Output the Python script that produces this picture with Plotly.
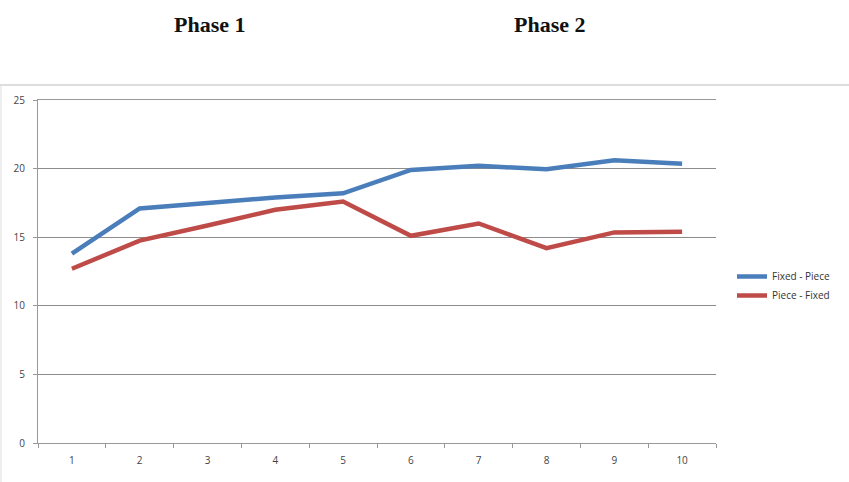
import plotly.graph_objects as go

categories = ["1", "2", "3", "4", "5", "6", "7", "8", "9", "10"]
fixed_piece = [13.8, 17.1, 17.5, 17.9, 18.2, 19.9, 20.2, 19.95, 20.6, 20.35]
piece_fixed = [12.7, 14.75, 15.85, 17.0, 17.6, 15.1, 16.0, 14.2, 15.35, 15.4]
y_ticks = [0, 5, 10, 15, 20, 25]
phase_labels = ["Phase 1", "Phase 2"]

W, H = 849, 482
L, R, T, B = 38, 133, 100, 39
pw, ph = W - L - R, H - T - B

def px_x(p):
    return (p - L) / pw

def px_y(p):
    return (H - B - p) / ph

fig = go.Figure()
fig.add_trace(go.Scatter(x=categories, y=fixed_piece, mode="lines", name="Fixed - Piece",
                         line=dict(color="#4a7ebb", width=4.5)))
fig.add_trace(go.Scatter(x=categories, y=piece_fixed, mode="lines", name="Piece - Fixed",
                         line=dict(color="#be4b48", width=4.5)))

fig.update_layout(
    width=W, height=H,
    margin=dict(l=L, r=R, t=T, b=B, autoexpand=False),
    paper_bgcolor="white", plot_bgcolor="white",
    showlegend=True,
    legend=dict(x=px_x(732), y=px_y(286), xanchor="left", yanchor="middle",
                font=dict(family="Open Sans, Arial, sans-serif", size=10, color="#333"),
                itemwidth=30, tracegroupgap=0, bgcolor="rgba(0,0,0,0)"),
    font=dict(family="Open Sans, Arial, sans-serif", size=10, color="#444"),
)
fig.update_xaxes(type="category", range=[-0.5, 9.5], tickson="boundaries", ticks="outside", ticklen=4,
                 tickcolor="#999", showline=True, linecolor="#999", linewidth=1, mirror=True,
                 showgrid=False, ticklabelstandoff=8, tickfont=dict(size=10, color="#444"))
fig.update_yaxes(range=[0, 25], tickvals=y_ticks, ticks="outside", ticklen=4,
                 tickcolor="#999", showline=True, linecolor="#999", linewidth=1,
                 showgrid=True, gridcolor="#8c8c8c", gridwidth=1, ticklabelstandoff=6,
                 zeroline=False, tickfont=dict(size=10, color="#444"))

for label, xp in zip(phase_labels, [210, 550]):
    fig.add_annotation(text="<b>" + label + "</b>", xref="paper", yref="paper",
                       x=px_x(xp), y=px_y(25), xanchor="center", yanchor="middle", showarrow=False,
                       font=dict(family="Liberation Serif, Times New Roman, serif", size=22, color="#111"))

fig.add_shape(type="line", xref="paper", yref="paper",
              x0=px_x(0), x1=px_x(W), y0=px_y(85), y1=px_y(85),
              line=dict(color="#bbbbbb", width=1))
fig.add_shape(type="line", xref="paper", yref="paper",
              x0=px_x(1), x1=px_x(1), y0=px_y(85), y1=px_y(H),
              line=dict(color="#dddddd", width=1))

fig.write_html("out.html")
